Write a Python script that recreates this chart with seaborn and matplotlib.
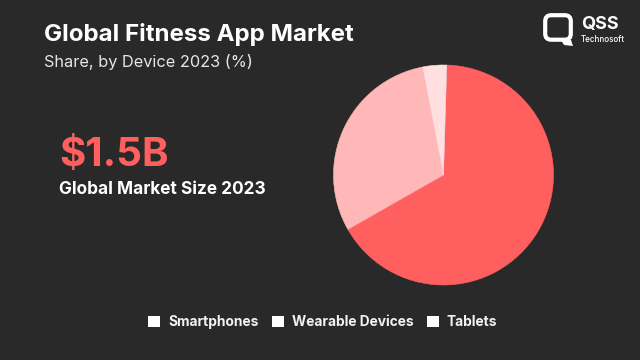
import matplotlib
matplotlib.use("Agg")
import matplotlib.pyplot as plt
from matplotlib.patches import FancyBboxPatch, Patch, Polygon
import seaborn as sns

devices = ["Smartphones", "Wearable Devices", "Tablets"]
shares = [66.3, 30.2, 3.5]
slice_colors = ["#ff5f5f", "#ffb7b7", "#ffdfdf"]

title = "Global Fitness App Market"
subtitle = "Share, by Device 2023 (%)"
big_number = "$1.5B"
big_label = "Global Market Size 2023"

BG = "#292929"
sns.set_theme(style="white", rc={"figure.facecolor": BG, "axes.facecolor": BG, "savefig.facecolor": BG})
plt.rcParams["font.family"] = ["Inter", "DejaVu Sans"]

W, H = 640, 360
fig = plt.figure(figsize=(W / 100, H / 100), dpi=100)

# pie axes, placed in pixels
ax = fig.add_axes([333.5 / W, (H - 285) / H, 220 / W, 220 / H])
wedges, _ = ax.pie(shares, colors=slice_colors, startangle=88.3, counterclock=False, radius=1.0)
# same-colour edge hides the antialiasing seam between slices
for wedge, color in zip(wedges, slice_colors):
    wedge.set_edgecolor(color)
    wedge.set_linewidth(0.4)
    wedge.set_clip_on(False)
ax.set_xlim(-1, 1)
ax.set_ylim(-1, 1)

# legend swatches are plain white in the reference
handles = [Patch(facecolor="white", edgecolor="none", linewidth=0, label=d) for d in devices]
fig.legend(handles=handles, ncol=3, loc="center", bbox_to_anchor=(322.75 / W, (H - 322) / H),
           frameon=False, labelcolor="#f2f2f2", handlelength=0.87, handleheight=0.87,
           handletextpad=0.6, columnspacing=0.95, prop=dict(size=9.9, weight="bold"))

# text and logo, in pixel coordinates
overlay = fig.add_axes([0, 0, 1, 1], facecolor="none")
overlay.set_xlim(0, W)
overlay.set_ylim(H, 0)
overlay.axis("off")

overlay.text(44, 34.5, title, color="white", fontsize=17.3, fontweight="bold", va="center")
overlay.text(44, 62, subtitle, color="#e6e6e6", fontsize=11.75, va="center")
overlay.text(59, 156, big_number, color="#ff5f5f", fontsize=29, fontweight="bold", va="center")
overlay.text(59, 190, big_label, color="white", fontsize=12.4, fontweight="bold", va="center")

overlay.add_patch(FancyBboxPatch((545.2, 15.2), 25.6, 24.5, boxstyle="round,pad=0,rounding_size=6",
                                 facecolor="none", edgecolor="white", linewidth=3.0))
overlay.add_patch(Polygon([[561, 40], [571, 40], [573, 46], [564, 45]], closed=True, facecolor="white", edgecolor="none"))
overlay.text(581, 24, "QSS", color="white", fontsize=13, fontweight="bold", va="center", ha="left")
overlay.text(581, 39, "Technosoft", color="white", fontsize=5.8, va="center", ha="left", fontweight="medium")

fig.savefig("out.png", dpi=100)
